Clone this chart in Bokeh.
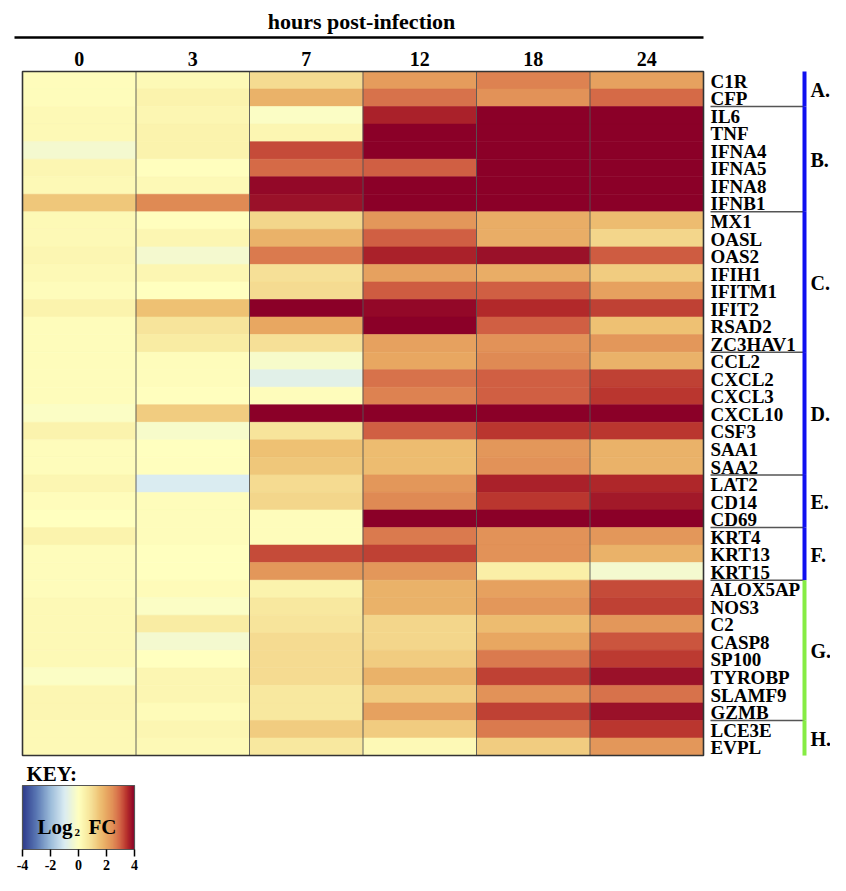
import numpy as np
from bokeh.plotting import figure
from bokeh.models import Range1d, LinearColorMapper, ColumnDataSource
from bokeh.core.properties import value
from bokeh.embed import file_html
from bokeh.resources import INLINE

# ---------------- data ----------------
hours = ["0", "3", "7", "12", "18", "24"]
genes = ["C1R", "CFP", "IL6", "TNF", "IFNA4", "IFNA5", "IFNA8", "IFNB1",
         "MX1", "OASL", "OAS2", "IFIH1", "IFITM1", "IFIT2", "RSAD2", "ZC3HAV1",
         "CCL2", "CXCL2", "CXCL3", "CXCL10", "CSF3", "SAA1", "SAA2",
         "LAT2", "CD14", "CD69", "KRT4", "KRT13", "KRT15",
         "ALOX5AP", "NOS3", "C2", "CASP8", "SP100", "TYROBP", "SLAMF9", "GZMB",
         "LCE3E", "EVPL"]
fc_0h = [0.1, 0.1, 0.2, 0.2, -0.3, 0.3, 0.2, 1.4,
         0.2, 0.2, 0.3, 0.2, 0.1, 0.4, 0.1, 0.1,
         0.1, 0.1, 0.1, -0.1, 0.4, 0.1, 0.1,
         0.3, 0.1, 0.0, 0.4, 0.1, 0.1,
         0.1, 0.2, 0.2, 0.2, 0.2, -0.1, 0.3, 0.3,
         0.2, 0.2]
fc_3h = [0.2, 0.4, 0.3, 0.4, 0.4, 0.05, 0.2, 2.5,
         0.05, 0.3, -0.3, 0.3, 0.0, 1.5, 0.8, 0.6,
         0.1, 0.1, 0.05, 1.3, -0.2, 0.0, 0.05,
         -1.0, 0.1, 0.1, 0.1, 0.0, 0.0,
         0.15, -0.1, 0.6, -0.3, 0.0, 0.3, 0.3, 0.15,
         0.3, 0.2]
fc_7h = [1.0, 1.8, -0.1, 0.3, 3.2, 2.9, 3.9, 3.8,
         1.1, 1.8, 2.7, 0.9, 1.0, 4.0, 2.0, 0.9,
         -0.2, -0.8, 0.1, 4.0, 0.8, 1.5, 1.4,
         1.0, 1.1, 0.1, 0.1, 3.2, 2.3,
         0.4, 0.7, 0.8, 1.0, 1.0, 1.0, 0.7, 0.7,
         1.3, 0.7]
fc_12h = [2.2, 2.8, 3.6, 4.0, 4.0, 3.0, 4.0, 4.0,
          2.3, 3.0, 3.6, 2.1, 3.05, 3.9, 4.0, 2.1,
          2.0, 2.8, 2.6, 4.0, 3.0, 1.6, 1.6,
          2.3, 2.5, 4.0, 2.7, 3.3, 2.3,
          1.8, 1.8, 1.1, 1.1, 1.3, 1.8, 1.3, 2.1,
          1.3, 0.2]
fc_18h = [2.6, 2.4, 4.0, 4.0, 4.0, 4.0, 4.0, 4.0,
          1.9, 1.9, 3.8, 1.9, 3.0, 3.5, 3.0, 2.4,
          2.5, 3.0, 3.0, 4.0, 3.4, 2.3, 2.4,
          3.6, 3.4, 4.0, 2.4, 2.4, 0.5,
          2.1, 2.3, 1.6, 2.0, 2.7, 3.3, 2.4, 3.3,
          2.7, 1.3]
fc_24h = [2.1, 2.9, 4.0, 4.0, 4.0, 4.0, 4.0, 4.0,
          1.6, 1.1, 3.05, 1.3, 2.1, 3.3, 1.5, 2.3,
          1.8, 3.3, 3.4, 4.0, 3.4, 1.8, 1.8,
          3.55, 3.7, 4.0, 2.3, 1.8, -0.3,
          3.2, 3.3, 2.3, 3.1, 3.35, 3.8, 2.8, 3.8,
          3.4, 2.3]
series = [fc_0h, fc_3h, fc_7h, fc_12h, fc_18h, fc_24h]

group_names = ["A.", "B.", "C.", "D.", "E.", "F.", "G.", "H."]
group_sizes = [2, 6, 8, 7, 3, 3, 8, 2]
group_colors = ["#1010F0"] * 6 + ["#86EC44"] * 2

key_ticks = [-4, -2, 0, 2, 4]
key_labels = ["-4", "-2", "0", "2", "4"]

# ---------------- colour map ----------------
anchor_v = [-4, -3, -2, -1, 0, 0.5, 1, 1.5, 2, 2.5, 3, 3.5, 4]
anchor_c = ["#2E3A8C", "#5A78B4", "#9CBCDA", "#DAECF2", "#FFFFC0", "#FAF0A8",
            "#F5DC92", "#EEC274", "#E8A862", "#E08C55", "#D26244", "#B42C2A",
            "#8B0028"]
rgb = np.array([[int(c[i:i + 2], 16) for i in (1, 3, 5)] for c in anchor_c], float)
grid = np.linspace(-4, 4, 256)
palette = []
for g in grid:
    r, gg, b = (np.interp(g, anchor_v, rgb[:, k]) for k in range(3))
    palette.append("#%02x%02x%02x" % (int(round(r)), int(round(gg)), int(round(b))))
mapper = LinearColorMapper(palette=palette, low=-4, high=4)

# ---------------- layout constants (pixels -> units) ----------------
W, H = 830, 875
COLW = 113.5          # px per column
ROWH = 17.54          # px per row
X0, Y0 = 22, 71       # heatmap top-left inside figure (px)
ncol, nrow = len(hours), len(genes)


def ux(px):
    return (px - X0) / COLW


def uy(py):
    return (py - Y0) / ROWH


p = figure(width=W, height=H, x_range=Range1d(ux(0), ux(W)),
           y_range=Range1d(uy(H), uy(0)), x_axis_location=None,
           y_axis_location=None, toolbar_location=None, output_backend="svg",
           min_border=0, outline_line_color=None)
p.grid.visible = False
p.background_fill_color = "white"

KX0 = 22              # key left px
KSCALE = 112 / 8      # px per log2 unit in key
p.extra_x_ranges = {"key": Range1d(-4 - KX0 / KSCALE, -4 + (W - KX0) / KSCALE)}

# heatmap cells
xs, ys, vs = [], [], []
for ci, col in enumerate(series):
    for ri, v in enumerate(col):
        xs.append(ci + 0.5)
        ys.append(ri + 0.5)
        vs.append(v)
src = ColumnDataSource(dict(x=xs, y=ys, v=vs))
p.rect(x="x", y="y", width=1, height=1, source=src,
       fill_color={"field": "v", "transform": mapper},
       line_color={"field": "v", "transform": mapper}, line_width=0.6)

# column separators and outline
p.segment(x0=list(range(1, ncol)), x1=list(range(1, ncol)),
          y0=[0] * (ncol - 1), y1=[nrow] * (ncol - 1),
          line_color="#555555", line_width=0.9)
p.quad(left=[0], right=[ncol], top=[0], bottom=[nrow], fill_color=None,
       line_color="#333333", line_width=1.6)

FONT = value("Liberation Serif")

# header
p.text(x=[ux(361)], y=[uy(21)], text=["hours post-infection"], text_font=FONT,
       text_font_style="bold", text_font_size="22px", text_align="center",
       text_baseline="middle", text_color="black")
p.segment(x0=[ux(14)], x1=[ncol], y0=[uy(37)], y1=[uy(37)], line_color="black",
          line_width=2.5)
p.text(x=[i + 0.5 for i in range(ncol)], y=[uy(58)] * ncol, text=hours,
       text_font=FONT, text_font_style="bold", text_font_size="20px",
       text_align="center", text_baseline="middle", text_color="black")

# gene labels
label_x = ncol + 7 / COLW
p.text(x=[label_x] * nrow, y=[i + 0.55 for i in range(nrow)], text=genes,
       text_font=FONT, text_font_style="bold", text_font_size="19px",
       text_align="left", text_baseline="middle", text_color="black")

# group separators, bars and letters
bar_x = ncol + 101 / COLW
bounds = np.cumsum(group_sizes)
starts = np.concatenate([[0], bounds[:-1]])
p.segment(x0=[label_x] * (len(bounds) - 1), x1=[bar_x] * (len(bounds) - 1),
          y0=list(bounds[:-1]), y1=list(bounds[:-1]), line_color="#555555",
          line_width=1.5)
p.segment(x0=[bar_x] * len(bounds), x1=[bar_x] * len(bounds),
          y0=[float(s) for s in starts], y1=[float(b) for b in bounds],
          line_color=group_colors, line_width=4)
p.text(x=[ncol + 107 / COLW] * len(bounds),
       y=[s + n / 2 + 0.05 for s, n in zip(starts, group_sizes)], text=group_names,
       text_font=FONT, text_font_style="bold", text_font_size="20px",
       text_align="left", text_baseline="middle", text_color="black")

# key
p.text(x=[ux(26)], y=[uy(773)], text=["KEY:"], text_font=FONT,
       text_font_style="bold", text_font_size="21px", text_align="left",
       text_baseline="middle", text_color="black")
grad = np.linspace(-4, 4, 256).reshape(1, 256)
ktop, kbot = uy(785), uy(849)
p.image(image=[grad], x=-4, y=ktop, dw=8, dh=kbot - ktop, color_mapper=mapper,
        x_range_name="key")
p.quad(left=[-4], right=[4], top=[ktop], bottom=[kbot], fill_color=None,
       line_color="#555555", line_width=1.2, x_range_name="key")
p.text(x=[-4 + 15 / KSCALE], y=[uy(826)], text=["Log"], text_font=FONT,
       text_font_style="bold", text_font_size="21px", text_align="left",
       text_baseline="alphabetic", text_color="black", x_range_name="key")
p.text(x=[-4 + 52 / KSCALE], y=[uy(832)], text=["2"], text_font=FONT,
       text_font_style="bold", text_font_size="11px", text_align="left",
       text_baseline="alphabetic", text_color="black", x_range_name="key")
p.text(x=[-4 + 66 / KSCALE], y=[uy(826)], text=["FC"], text_font=FONT,
       text_font_style="bold", text_font_size="21px", text_align="left",
       text_baseline="alphabetic", text_color="black", x_range_name="key")
p.segment(x0=key_ticks, x1=key_ticks, y0=[kbot] * len(key_ticks),
          y1=[uy(856)] * len(key_ticks), line_color="black", line_width=1.5,
          x_range_name="key")
p.text(x=key_ticks, y=[uy(864)] * len(key_ticks), text=key_labels, text_font=FONT,
       text_font_style="bold", text_font_size="14px", text_align="center",
       text_baseline="middle", text_color="black", x_range_name="key")

open("out.html", "w").write(file_html(p, INLINE))
